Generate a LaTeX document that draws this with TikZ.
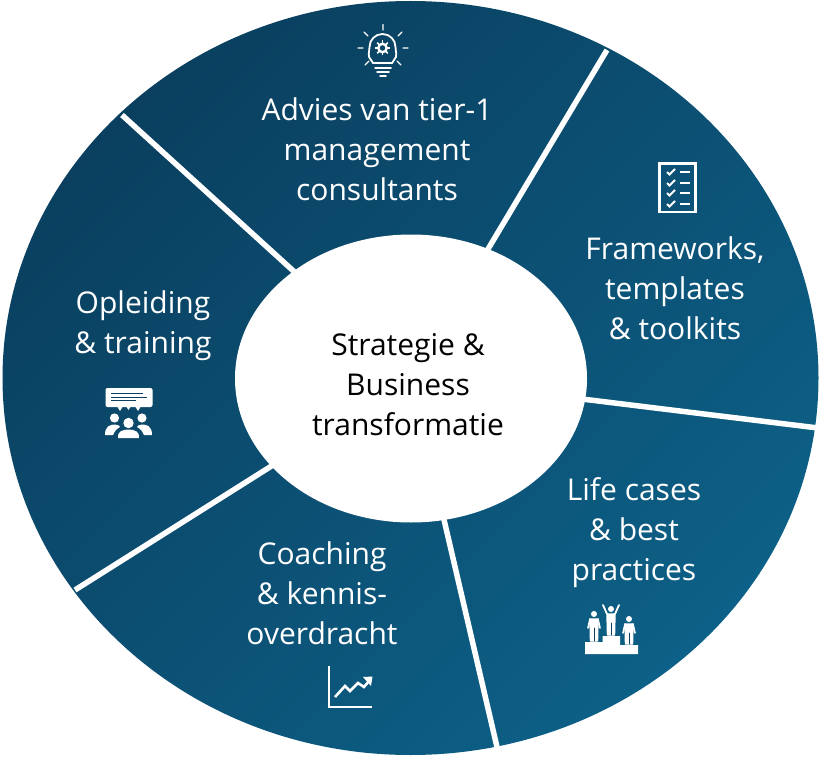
\documentclass[tikz,border=0pt]{standalone}
\usepackage{fontspec}
\setmainfont{Open Sans}
\definecolor{dk}{HTML}{0A3F5F}
\definecolor{lt}{HTML}{0D6087}
\tikzset{
 lbl/.style={text=white,font=\fontsize{30}{40}\selectfont,align=center,inner sep=0pt},
 sep/.style={draw=white,line width=5.5pt},
 ic/.style={draw=white,line width=1.8pt},
 hub/.style={ellipse,fill=white,minimum width=352pt,minimum height=288pt,inner sep=0pt},
 hubtext/.style={text=black,font=\fontsize{30}{40}\selectfont,align=center,inner sep=0pt}
}
\usetikzlibrary{shapes.geometric}
\begin{document}
\begin{tikzpicture}[x=1pt,y=-1pt]
\useasboundingbox (0,0) rectangle (822,757);
\fill[white] (0,0) rectangle (822,757);
\shade[left color=dk,right color=lt,shading angle=45] (410.5,378) ellipse [x radius=408,y radius=377];
% separators
\coordinate (a1) at (122,115); \coordinate (a2) at (607,50); \coordinate (a3) at (818,428);
\coordinate (a4) at (497,747); \coordinate (a5) at (75,590);
\coordinate (c0) at (411,378);
\draw[sep] (a1)--(c0); \draw[sep] (a2)--(c0); \draw[sep] (a3)--(c0); \draw[sep] (a4)--(c0); \draw[sep] (a5)--(c0);
\node[hub] (hub) at (411,378.5) {};
\node[hubtext] (t0) at (408,385) {Strategie \&\\Business\\transformatie};
\node[lbl] (t1) at (377,149.5) {Advies van tier-1\\management\\consultants};
\node[lbl] (t2) at (675,288.5) {Frameworks,\\templates\\\& toolkits};
\node[lbl] (t3) at (634,532.5) {Life cases\\\& best\\practices};
\node[lbl] (t4) at (322,593.5) {Coaching\\\& kennis-\\overdracht};
\node[lbl] (t5) at (143,325.5) {Opleiding\\\& training};
% bulb
\begin{scope}[line cap=round]
\draw[ic] (373,63) -- (371,60) .. controls (367,56) and (369.5,52) .. (369.5,47) arc[start angle=180,end angle=360,radius=13] .. controls (395.5,52) and (398,56) .. (394,60) -- (392,63) -- cycle;
\draw[ic,line width=1.3pt] (383,24.5)--(383,30) (364,32)--(368,36) (402,32)--(398,36) (358,48)--(363,48) (403,48)--(408,48) (365,65)--(369,61) (401,65)--(397,61);
\draw[ic,line width=1.5pt] (375,68)--(391,68) (377,72)--(389,72) (380,76)--(386,76);
\draw[ic,line width=2.4pt] (382.5,48) circle (4.2);
\foreach \a in {0,45,...,315}{\draw[ic,line width=1.6pt,line cap=butt] (382.5,48) ++(\a:4.5)--++(\a:3);}
\end{scope}
% checklist
\draw[ic,line width=2.5pt] (659.5,163.5) rectangle (695.5,212);
\foreach \y in {172,183,193,204}{
 \draw[ic,line width=1.9pt] (667,\y)--(669.5,\y+2.5)--(675,\y-3);
 \draw[ic,line width=1.9pt] (680,\y)--(690,\y);}
% training
\fill[white,rounded corners=2pt] (105.5,388) rectangle (152.5,407);
\fill[white] (117,406)--(120,411)--(123,406)--cycle (126,406)--(128.5,410)--(131,406)--cycle (135,406)--(138,411)--(141,406)--cycle;
\draw[dk,line width=1pt] (111,393)--(143,393) (111,397)--(147,397) (111,400.5)--(136,400.5);
\fill[white] (114.5,418) circle (4.6) (142,418) circle (4.6);
\fill[white] (105,435) .. controls (105,426) and (110,424.5) .. (115,424.5) .. controls (118,424.5) and (120,426) .. (120,427) .. controls (116,429) and (114,432) .. (113,435) -- cycle;
\fill[white] (152,435) .. controls (152,426) and (147,424.5) .. (142,424.5) .. controls (139,424.5) and (137,426) .. (137,427) .. controls (141,429) and (143,432) .. (144,435) -- cycle;
\fill[white] (128.5,423) circle (5.2);
\fill[white] (118,438) .. controls (117,432) and (122,429.5) .. (128.5,429.5) .. controls (135,429.5) and (140,432) .. (139,438) -- cycle;
% podium
\fill[white] (585,654)--(585,642)--(602.5,642)--(602.5,636)--(620,636)--(620,645)--(638,645)--(638,654)--cycle;
\fill[white] (594,614) circle (3) (611,609) circle (3) (629,619) circle (3);
\begin{scope}[line cap=round,line join=round]
\draw[ic,line width=1.4pt,fill=white] (590,619)--(598,619)--(597.5,641)--(590.5,641)--cycle;
\draw[ic,line width=1.6pt] (590,619)--(588,628) (598,619)--(600,628);
\draw[dk,line width=.6pt] (594,628)--(594,641);
\draw[ic,line width=1.4pt,fill=white] (607,614)--(615,614)--(614.5,635)--(607.5,635)--cycle;
\draw[ic,line width=1.8pt] (607,614)--(603,605) (615,614)--(619,605);
\draw[dk,line width=.6pt] (611,623)--(611,635);
\draw[ic,line width=1.4pt,fill=white] (625,624)--(633,624)--(632.5,644)--(625.5,644)--cycle;
\draw[ic,line width=1.6pt] (625,624)--(623,633) (633,624)--(635,633);
\draw[dk,line width=.6pt] (629,633)--(629,644);
\end{scope}
% chart
\draw[ic,line width=2.4pt] (329,665.5)--(329,707)--(372,707);
\draw[ic,line width=2.6pt] (335,697)--(345,686)--(350,691)--(358,683)--(364,687)--(369,681);
\fill[white] (363,677)--(372.5,676.5)--(371,686)--cycle;
\end{tikzpicture}
\end{document}
